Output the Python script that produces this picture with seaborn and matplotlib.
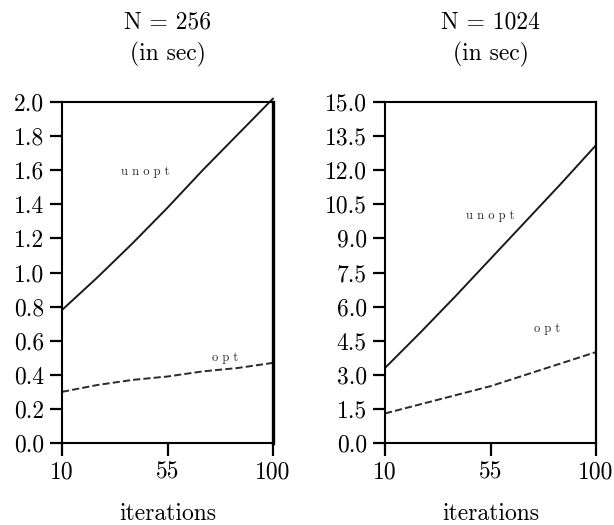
import matplotlib
matplotlib.use("Agg")
import matplotlib.pyplot as plt
import seaborn as sns
import pandas as pd

iterations = [10, 25, 40, 55, 70, 85, 100]
unopt_256 = [0.78, 0.97, 1.17, 1.38, 1.60, 1.81, 2.02]
opt_256 = [0.30, 0.34, 0.37, 0.39, 0.42, 0.44, 0.47]
unopt_1024 = [3.3, 4.85, 6.45, 8.1, 9.75, 11.4, 13.1]
opt_1024 = [1.3, 1.7, 2.1, 2.5, 3.0, 3.5, 4.0]

titles = ["N = 256\n(in sec)", "N = 1024\n(in sec)"]
yticks_256 = [0.0, 0.2, 0.4, 0.6, 0.8, 1.0, 1.2, 1.4, 1.6, 1.8, 2.0]
yticks_1024 = [0.0, 1.5, 3.0, 4.5, 6.0, 7.5, 9.0, 10.5, 12.0, 13.5, 15.0]
xticks = [10, 55, 100]

sns.set_theme(style="white")
plt.rcParams['font.family'] = ['cmr10', 'DejaVu Serif']
plt.rcParams['axes.formatter.use_mathtext'] = True
plt.rcParams['mathtext.fontset'] = 'cm'

W, H = 614, 525
fig = plt.figure(figsize=(W / 100, H / 100), dpi=100)

panels = [
    dict(left=62, right=273, unopt=unopt_256, opt=opt_256, yticks=yticks_256,
         ylim=2.0, title=titles[0], ulab=(145, 172), olab=(225, 358), rw=2.4),
    dict(left=385, right=596, unopt=unopt_1024, opt=opt_1024, yticks=yticks_1024,
         ylim=15.0, title=titles[1], ulab=(490, 216), olab=(547, 329), rw=1.6),
]
top, bottom = 102, 443

for p in panels:
    ax = fig.add_axes([p['left'] / W, (H - bottom) / H,
                       (p['right'] - p['left']) / W, (bottom - top) / H])
    df = pd.DataFrame({"iterations": iterations, "unopt": p['unopt'], "opt": p['opt']})
    sns.lineplot(data=df, x="iterations", y="unopt", ax=ax, color="#1a1a1a",
                 linewidth=1.4, clip_on=False)
    sns.lineplot(data=df, x="iterations", y="opt", ax=ax, color="#2a2a2a",
                 linewidth=1.4, dashes=(3, 2.2), linestyle="--")
    ax.set_xlim(10, 100)
    ax.set_ylim(0, p['ylim'])
    ax.set_xticks(xticks)
    ax.set_xticklabels([str(t) for t in xticks])
    ax.set_yticks(p['yticks'])
    ax.set_yticklabels([f"{t:.1f}" for t in p['yticks']])
    ax.tick_params(axis='both', direction='out', length=9, width=1.6,
                   labelsize=17, color='black', labelcolor='black',
                   left=True, bottom=True, pad=4)
    for s in ['left', 'top', 'bottom']:
        ax.spines[s].set_linewidth(1.5)
        ax.spines[s].set_color('black')
    ax.spines['right'].set_linewidth(p['rw'])
    ax.spines['right'].set_color('black')
    ax.set_xlabel("iterations", fontsize=17, labelpad=14, color='black')
    ax.set_ylabel("")
    ax.set_title(p['title'], fontsize=17, pad=30, color='black', linespacing=1.45)
    ux, uy = p['ulab']
    ox, oy = p['olab']
    fig.text(ux / W, 1 - uy / H, "u n o p t", fontsize=9, ha='center', va='center')
    fig.text(ox / W, 1 - oy / H, "o p t", fontsize=9, ha='center', va='center')

fig.savefig("out.png", dpi=100, facecolor="white")
